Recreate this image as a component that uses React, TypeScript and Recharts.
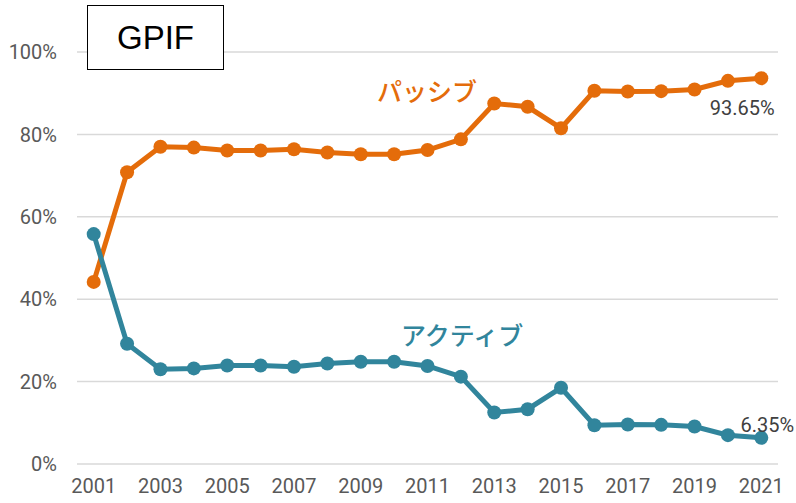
import React from "react";
import {
  CartesianGrid,
  Line,
  LineChart,
  XAxis,
  YAxis,
} from "recharts";

const years = [
  "2001", "2002", "2003", "2004", "2005", "2006", "2007", "2008", "2009", "2010",
  "2011", "2012", "2013", "2014", "2015", "2016", "2017", "2018", "2019", "2020", "2021",
];
const passive = [
  44.2, 70.8, 77.0, 76.8, 76.1, 76.1, 76.4, 75.6, 75.2, 75.2,
  76.2, 78.8, 87.5, 86.7, 81.5, 90.6, 90.4, 90.5, 90.9, 93.0, 93.65,
];
const active = [
  55.8, 29.2, 23.0, 23.2, 23.9, 23.9, 23.6, 24.4, 24.8, 24.8,
  23.8, 21.2, 12.5, 13.3, 18.5, 9.4, 9.6, 9.5, 9.1, 7.0, 6.35,
];
const yTicks = [0, 20, 40, 60, 80, 100];

const data = years.map((year, i) => ({
  year,
  passive: passive[i],
  active: active[i],
}));

const ORANGE = "#e46c0a";
const TEAL = "#31859c";
const FONT = "Roboto, 'Noto Sans CJK JP', sans-serif";
const JP_FONT = "'Noto Sans CJK JP', sans-serif";

const endLabel = (dy: number, anchor: "middle" | "end", dx: number) => (props: any) => {
  const { x, y, index, value } = props;
  if (index !== years.length - 1) return null;
  return (
    <text
      x={x + dx}
      y={y + dy}
      textAnchor={anchor}
      fill="#404040"
      fontSize={20}
      fontFamily={FONT}
      dominantBaseline="central"
    >
      {value}%
    </text>
  );
};

const App = () => {
  return (
    <div
      style={{
        position: "absolute",
        left: 0,
        top: 0,
        width: 796,
        height: 503,
        background: "#fff",
        fontFamily: FONT,
      }}
    >
      <LineChart
        width={796}
        height={503}
        data={data}
        margin={{ top: 52, right: 18, bottom: 0, left: 8 }}
      >
        <CartesianGrid
          vertical={false}
          stroke="#d9d9d9"
          strokeWidth={1.5}
        />
        <XAxis
          dataKey="year"
          axisLine={false}
          tickLine={false}
          interval={1}
          padding={{ left: 16.7, right: 16.7 }}
          tickMargin={9}
          height={39}
          tick={{ fill: "#595959", fontSize: 20, fontFamily: FONT }}
        />
        <YAxis
          domain={[0, 100]}
          ticks={yTicks}
          axisLine={false}
          tickLine={false}
          width={69}
          tickMargin={14}
          tickFormatter={(v) => `${v}%`}
          tick={{ fill: "#595959", fontSize: 20, fontFamily: FONT }}
        />
        <Line
          dataKey="passive"
          stroke={ORANGE}
          strokeWidth={5}
          dot={{ r: 7, fill: ORANGE, stroke: ORANGE, strokeWidth: 0 }}
          activeDot={false}
          isAnimationActive={false}
          label={endLabel(30, "middle", -19)}
        />
        <Line
          dataKey="active"
          stroke={TEAL}
          strokeWidth={5}
          dot={{ r: 7, fill: TEAL, stroke: TEAL, strokeWidth: 0 }}
          activeDot={false}
          isAnimationActive={false}
          label={endLabel(-13, "middle", 6)}
        />
      </LineChart>
      <div
        style={{
          position: "absolute",
          left: 87,
          top: 5,
          width: 137,
          height: 65,
          boxSizing: "border-box",
          border: "1.5px solid #000",
          background: "#fff",
          display: "flex",
          alignItems: "center",
          justifyContent: "center",
          fontSize: 33,
          fontFamily: "'Liberation Sans', Arial, sans-serif",
          color: "#000",
        }}
      >
        GPIF
      </div>
      <div
        style={{
          position: "absolute",
          left: 377,
          top: 73,
          fontSize: 25,
          fontWeight: 500,
          fontFamily: JP_FONT,
          color: ORANGE,
          lineHeight: "34px",
        }}
      >
        パッシブ
      </div>
      <div
        style={{
          position: "absolute",
          left: 401,
          top: 317,
          fontSize: 25,
          fontWeight: 500,
          fontFamily: JP_FONT,
          color: TEAL,
          lineHeight: "34px",
        }}
      >
        アクティブ
      </div>
    </div>
  );
};

export default App;
